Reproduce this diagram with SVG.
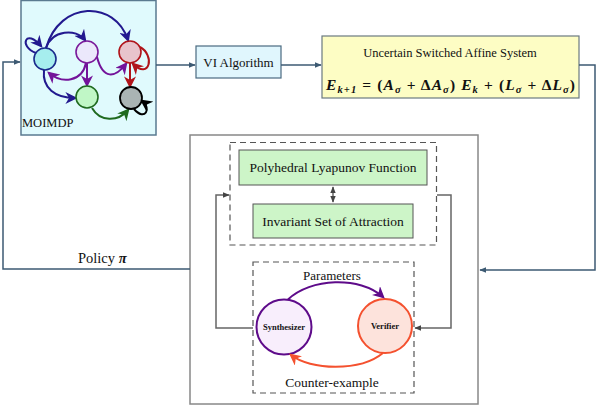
<svg xmlns="http://www.w3.org/2000/svg" width="598" height="405" viewBox="0 0 598 405" font-family="'Liberation Serif', 'DejaVu Serif', serif">
<style>
text{font-family:'Liberation Serif','DejaVu Serif',serif;fill:#111}
.blk{stroke:#3d5a73;stroke-width:1.5;fill:none}
.gr{stroke:#666;stroke-width:1.5;fill:none}
.dash{stroke:#555;stroke-width:1.2;fill:none;stroke-dasharray:6 4}
.e{fill:none;stroke-width:2}
</style>
<defs>
<marker id="ab" viewBox="0 0 10 10" refX="9" refY="5" markerWidth="7" markerHeight="7" orient="auto" markerUnits="userSpaceOnUse"><path d="M0,1 L10,5 L0,9 z" fill="#3d5a73"/></marker>
<marker id="ag" viewBox="0 0 10 10" refX="9" refY="5" markerWidth="7" markerHeight="7" orient="auto-start-reverse" markerUnits="userSpaceOnUse"><path d="M0,1 L10,5 L0,9 z" fill="#444"/></marker>
<marker id="mBlue" viewBox="0 0 10 10" refX="8" refY="5" markerWidth="12" markerHeight="12" orient="auto" markerUnits="userSpaceOnUse"><path d="M0,0 L10,5 L0,10 L3,5 z" fill="#22198f"/></marker>
<marker id="mPur" viewBox="0 0 10 10" refX="8" refY="5" markerWidth="12" markerHeight="12" orient="auto" markerUnits="userSpaceOnUse"><path d="M0,0 L10,5 L0,10 L3,5 z" fill="#73139a"/></marker>
<marker id="mRed" viewBox="0 0 10 10" refX="8" refY="5" markerWidth="12" markerHeight="12" orient="auto" markerUnits="userSpaceOnUse"><path d="M0,0 L10,5 L0,10 L3,5 z" fill="#b0141a"/></marker>
<marker id="mGrn" viewBox="0 0 10 10" refX="8" refY="5" markerWidth="12" markerHeight="12" orient="auto" markerUnits="userSpaceOnUse"><path d="M0,0 L10,5 L0,10 L3,5 z" fill="#1f6a1f"/></marker>
<marker id="mBlk" viewBox="0 0 10 10" refX="8" refY="5" markerWidth="12" markerHeight="12" orient="auto" markerUnits="userSpaceOnUse"><path d="M0,0 L10,5 L0,10 L3,5 z" fill="#000"/></marker>
<marker id="mP2" viewBox="0 0 10 10" refX="8" refY="5" markerWidth="12" markerHeight="12" orient="auto" markerUnits="userSpaceOnUse"><path d="M0,0 L10,5 L0,10 L3,5 z" fill="#5e0b8a"/></marker>
<marker id="mO2" viewBox="0 0 10 10" refX="8" refY="5" markerWidth="12" markerHeight="12" orient="auto" markerUnits="userSpaceOnUse"><path d="M0,0 L10,5 L0,10 L3,5 z" fill="#f4512f"/></marker>
</defs>

<g id="big-box"><rect x="190" y="135" width="288" height="269" fill="#fff" stroke="#888" stroke-width="1.5"/></g>

<g id="moimdp">
<rect x="21" y="0.5" width="135" height="134.5" fill="#e0fafd" stroke="#5a7a90" stroke-width="1.5"/>
<text x="22" y="127" font-size="12.5">MOIMDP</text>
<g id="mdp-edges">
<path class="e" stroke="#22198f" d="M36 53 C18 46 26 28 41 46" marker-end="url(#mBlue)"/>
<path class="e" stroke="#22198f" d="M46 48 C52 30 76 28 85 40" marker-end="url(#mBlue)"/>
<path class="e" stroke="#22198f" d="M46 48 C60 0 115 0 128 40" marker-end="url(#mBlue)"/>
<path class="e" stroke="#73139a" d="M86 63 C82 82 62 84 49 73" marker-end="url(#mPur)"/>
<path class="e" stroke="#73139a" d="M87 63 L87 85" marker-end="url(#mPur)"/>
<path class="e" stroke="#73139a" d="M97 57 C103 80 115 78 126 64" marker-end="url(#mPur)"/>
<path class="e" stroke="#b0141a" d="M140 47 C155 55 150 80 133 64" marker-end="url(#mRed)"/>
<path class="e" stroke="#b0141a" d="M130 63 L130 86" marker-end="url(#mRed)"/>
<path class="e" stroke="#22198f" d="M44 70 C42 88 55 98 75 98" marker-end="url(#mBlue)"/>
<path class="e" stroke="#1f6a1f" d="M92 108 C100 122 118 122 128 110" marker-end="url(#mGrn)"/>
<path class="e" stroke="#000" d="M134 109 C145 122 152 108 142 101" marker-end="url(#mBlk)"/>
</g>
<circle id="n-cyan" cx="45" cy="59" r="11" fill="#a6eeee" stroke="#1a2a8c" stroke-width="1.6"/>
<circle id="n-purple" cx="87" cy="52" r="11" fill="#ebe8fb" stroke="#7a1a9a" stroke-width="1.6"/>
<circle id="n-red" cx="130" cy="52" r="11" fill="#e8c4cc" stroke="#b0141a" stroke-width="1.6"/>
<circle id="n-green" cx="87" cy="97" r="11" fill="#c0f7c6" stroke="#1f6a1f" stroke-width="1.6"/>
<circle id="n-grey" cx="131" cy="98" r="11" fill="#aab4b4" stroke="#000" stroke-width="1.8"/>
</g>

<g id="vi">
<rect x="196" y="46" width="85" height="32" fill="#e0f6fd" stroke="#4a6a80" stroke-width="1.2"/>
<text x="238.5" y="66.5" font-size="13" text-anchor="middle">VI Algorithm</text>
</g>

<g id="usas">
<rect x="322" y="36" width="257" height="62" fill="#fdfdc4" stroke="#6b7a80" stroke-width="1.2"/>
<text x="450" y="57" font-size="12.5" text-anchor="middle">Uncertain Switched Affine System</text>
<text x="326" y="90" font-size="15.5" font-weight="bold" font-style="italic" textLength="249" lengthAdjust="spacing">E<tspan font-size="10.5" dy="3">k+1</tspan><tspan dy="-3" font-style="normal"> = (</tspan>A<tspan font-size="10.5" dy="3">σ</tspan><tspan dy="-3" font-style="normal"> + Δ</tspan>A<tspan font-size="10.5" dy="3">σ</tspan><tspan dy="-3" font-style="normal">) </tspan>E<tspan font-size="10.5" dy="3">k</tspan><tspan dy="-3" font-style="normal"> + (</tspan>L<tspan font-size="10.5" dy="3">σ</tspan><tspan dy="-3" font-style="normal"> + Δ</tspan>L<tspan font-size="10.5" dy="3">σ</tspan><tspan dy="-3" font-style="normal">)</tspan></text>
</g>

<g id="top-group">
<rect class="dash" x="230" y="142.5" width="206.5" height="102.5"/>
<g id="plf">
<rect x="239" y="150" width="188" height="35" fill="#cdf5c8" stroke="#555" stroke-width="1"/>
<text x="333" y="172" font-size="13.5" text-anchor="middle">Polyhedral Lyapunov Function</text>
</g>
<g id="isa">
<rect x="253" y="204" width="160" height="34" fill="#cdf5c8" stroke="#555" stroke-width="1"/>
<text x="333" y="226" font-size="13.5" text-anchor="middle">Invariant Set of Attraction</text>
</g>
</g>

<g id="bottom-group">
<rect class="dash" x="253" y="262" width="161" height="131"/>
<g id="synth">
<circle cx="284" cy="327" r="27.5" fill="#f8eefc" stroke="#5e0b8a" stroke-width="2"/>
<text x="284" y="330" font-size="8.5" font-weight="bold" text-anchor="middle">Synthesizer</text>
</g>
<g id="verifier">
<circle cx="385" cy="326" r="27" fill="#fde3dc" stroke="#f4512f" stroke-width="2"/>
<text x="385" y="329" font-size="8.5" font-weight="bold" text-anchor="middle">Verifier</text>
</g>
<text x="332" y="280" font-size="13" text-anchor="middle">Parameters</text>
<text x="332" y="387" font-size="13.5" text-anchor="middle">Counter-example</text>
</g>

<g id="connectors">
<path class="blk" d="M190 269 H3 V62 H20" marker-end="url(#ab)"/>
<path class="blk" d="M156 65 H195" marker-end="url(#ab)"/>
<path class="blk" d="M281 65 H321" marker-end="url(#ab)"/>
<path class="blk" d="M579 65 H595 V270 H480" marker-end="url(#ab)"/>
<path class="gr" d="M253 328 H216 V195 H229" marker-end="url(#ag)"/>
<path class="gr" d="M437 195 H451 V328 H415" marker-end="url(#ag)"/>
<path stroke="#444" stroke-width="1.2" fill="none" d="M333 187 V202" marker-start="url(#ag)" marker-end="url(#ag)"/>
<path class="e" stroke="#5e0b8a" d="M288 299.5 C310 278 360 276 383 297" marker-end="url(#mP2)"/>
<path class="e" stroke="#f4512f" d="M383 353 C360 372 310 370 291 355" marker-end="url(#mO2)"/>
<text x="78" y="263" font-size="14.5">Policy <tspan font-weight="bold" font-style="italic">π</tspan></text>
</g>
</svg>
